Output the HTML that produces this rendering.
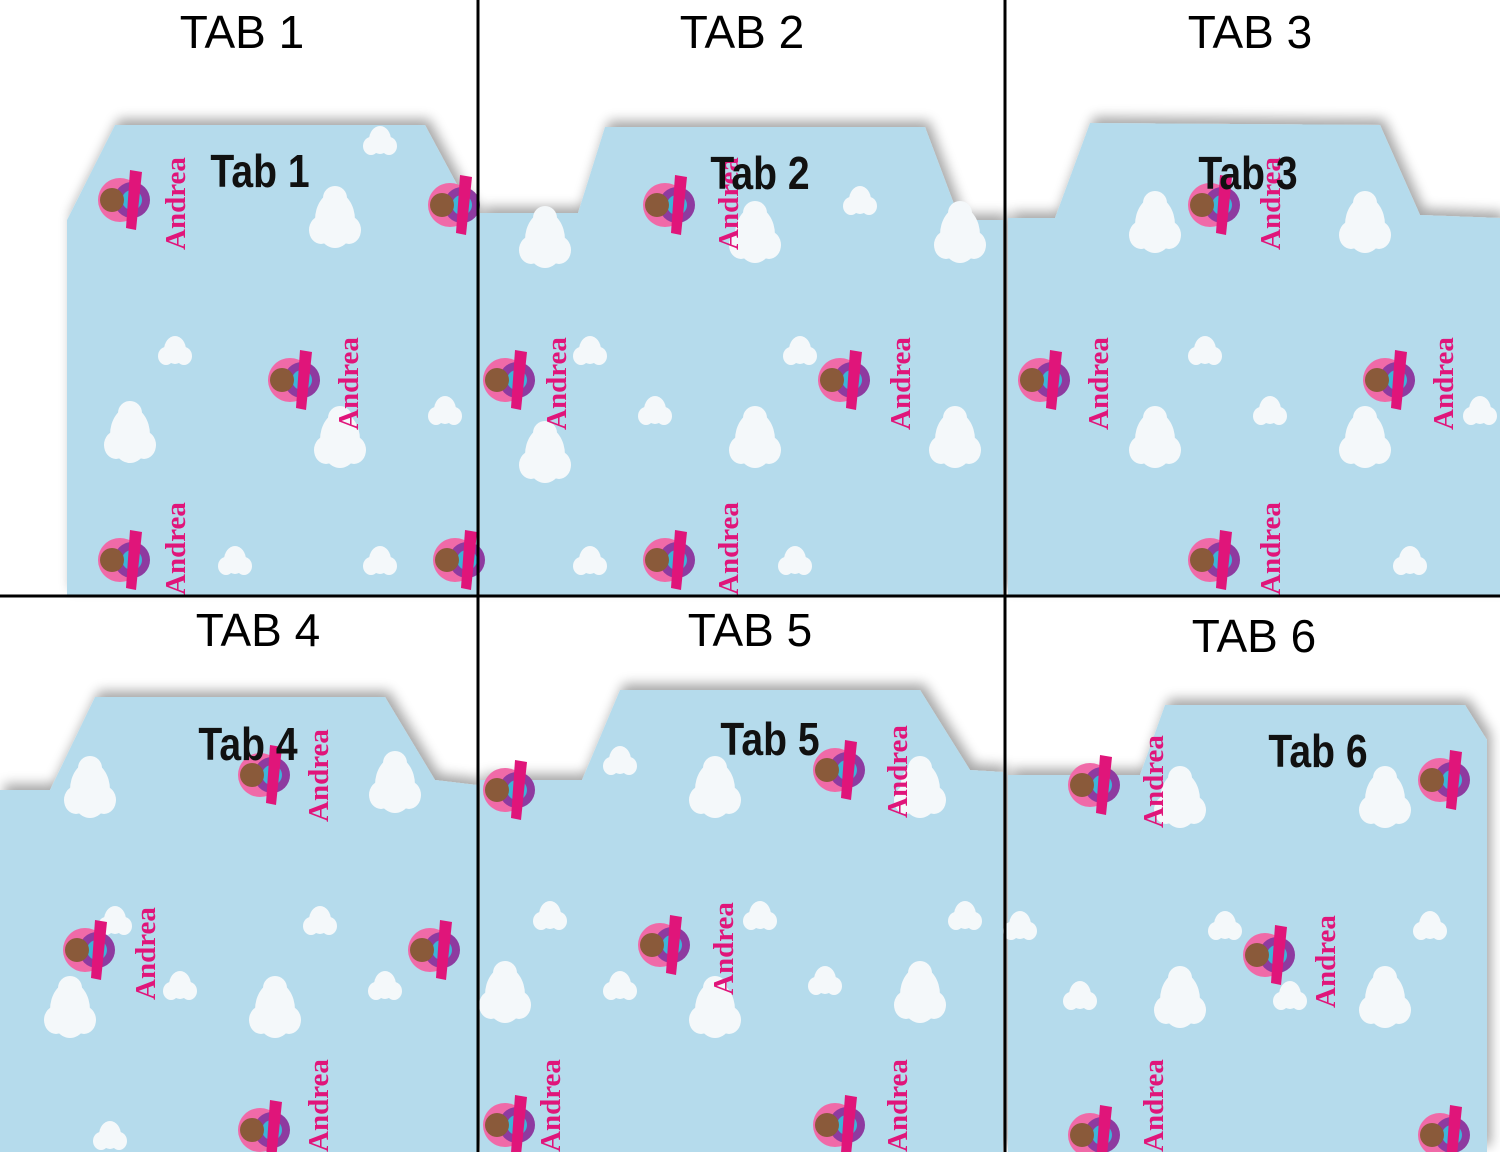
<!DOCTYPE html>
<html><head><meta charset="utf-8"><style>
html,body{margin:0;padding:0;background:#fff;}
svg{display:block}
</style></head><body>
<svg width="1500" height="1152" viewBox="0 0 1500 1152" xmlns="http://www.w3.org/2000/svg">
<defs>
<filter id="sh" x="-10%" y="-10%" width="120%" height="120%"><feGaussianBlur in="SourceAlpha" stdDeviation="6"/><feOffset dx="4" dy="-6"/><feComponentTransfer><feFuncA type="linear" slope="0.35"/></feComponentTransfer><feMerge><feMergeNode/><feMergeNode in="SourceGraphic"/></feMerge></filter>
<g id="cloud"><ellipse cx="0" cy="0" rx="20" ry="28" fill="#f4f8fa"/><ellipse cx="-14" cy="10" rx="12" ry="14" fill="#f4f8fa"/><ellipse cx="14" cy="10" rx="12" ry="14" fill="#f4f8fa"/><ellipse cx="0" cy="-22" rx="12" ry="12" fill="#f4f8fa"/></g>
<g id="sc"><ellipse cx="0" cy="0" rx="11" ry="14" fill="#f4f8fa"/><ellipse cx="-9" cy="6" rx="8" ry="9" fill="#f4f8fa"/><ellipse cx="9" cy="6" rx="8" ry="9" fill="#f4f8fa"/></g>
<g id="girl"><circle cx="0" cy="0" r="22" fill="#f06aa8"/><circle cx="12" cy="0" r="18" fill="#8e3aa0"/><circle cx="12" cy="0" r="10" fill="#3cb4d8"/><circle cx="12" cy="0" r="3" fill="#ffd23a"/><circle cx="-8" cy="0" r="12" fill="#8a5a3a"/><path d="M10 -30 L22 -28 L16 30 L6 28Z" fill="#e0157a"/></g>
</defs>
<g font-family="'Liberation Sans',sans-serif" font-size="46" text-anchor="middle" fill="#000">
<text x="242" y="48">TAB 1</text><text x="742" y="48">TAB 2</text><text x="1250" y="48">TAB 3</text>
<text x="258" y="646">TAB 4</text><text x="750" y="646">TAB 5</text><text x="1254" y="652">TAB 6</text>
</g>
<g fill="#b5dbec" filter="url(#sh)">
<polygon points="67,220 115,125 425,125 468,205 477,215 477,595 67,595"/>
<polygon points="480,213 578,213 605,127 925,127 960,220 1003,220 1003,595 480,595"/>
<polygon points="1008,218 1055,218 1090,123 1380,125 1420,215 1500,218 1500,595 1008,595"/>
<polygon points="0,790 50,790 95,697 385,697 435,780 477,785 477,1152 0,1152"/>
<polygon points="480,780 582,780 620,690 920,690 970,770 1003,772 1003,1152 480,1152"/>
<polygon points="1008,775 1140,775 1165,705 1465,705 1487,740 1487,1152 1008,1152"/>
</g>
<g>
<use href="#cloud" x="335" y="220"/><use href="#cloud" x="130" y="435"/><use href="#cloud" x="340" y="440"/><use href="#sc" x="175" y="350"/><use href="#sc" x="380" y="140"/><use href="#sc" x="380" y="560"/><use href="#sc" x="235" y="560"/><use href="#sc" x="445" y="410"/>
<use href="#cloud" x="755" y="235"/><use href="#cloud" x="755" y="440"/><use href="#cloud" x="545" y="455"/><use href="#cloud" x="955" y="440"/><use href="#sc" x="590" y="350"/><use href="#sc" x="655" y="410"/><use href="#sc" x="860" y="200"/><use href="#sc" x="800" y="350"/><use href="#sc" x="590" y="560"/><use href="#sc" x="795" y="560"/><use href="#cloud" x="545" y="240"/><use href="#cloud" x="960" y="235"/>
<use href="#cloud" x="1155" y="225"/><use href="#cloud" x="1155" y="440"/><use href="#cloud" x="1365" y="225"/><use href="#cloud" x="1365" y="440"/><use href="#sc" x="1205" y="350"/><use href="#sc" x="1270" y="410"/><use href="#sc" x="1410" y="560"/><use href="#sc" x="1480" y="410"/>
<use href="#cloud" x="70" y="1010"/><use href="#cloud" x="275" y="1010"/><use href="#cloud" x="90" y="790"/><use href="#cloud" x="395" y="785"/><use href="#sc" x="320" y="920"/><use href="#sc" x="115" y="920"/><use href="#sc" x="180" y="985"/><use href="#sc" x="385" y="985"/><use href="#sc" x="110" y="1135"/>
<use href="#cloud" x="715" y="790"/><use href="#cloud" x="920" y="790"/><use href="#cloud" x="505" y="995"/><use href="#cloud" x="715" y="1010"/><use href="#cloud" x="920" y="995"/><use href="#sc" x="620" y="760"/><use href="#sc" x="550" y="915"/><use href="#sc" x="760" y="915"/><use href="#sc" x="825" y="980"/><use href="#sc" x="620" y="985"/><use href="#sc" x="965" y="915"/>
<use href="#cloud" x="1180" y="1000"/><use href="#cloud" x="1385" y="1000"/><use href="#cloud" x="1180" y="800"/><use href="#cloud" x="1385" y="800"/><use href="#sc" x="1080" y="995"/><use href="#sc" x="1225" y="925"/><use href="#sc" x="1430" y="925"/><use href="#sc" x="1290" y="995"/><use href="#sc" x="1020" y="925"/>
</g>
<g>
<use href="#girl" x="120" y="200"/><use href="#girl" x="290" y="380"/><use href="#girl" x="120" y="560"/><use href="#girl" x="450" y="205"/><use href="#girl" x="455" y="560"/>
<use href="#girl" x="665" y="205"/><use href="#girl" x="505" y="380"/><use href="#girl" x="840" y="380"/><use href="#girl" x="665" y="560"/>
<use href="#girl" x="1210" y="205"/><use href="#girl" x="1040" y="380"/><use href="#girl" x="1385" y="380"/><use href="#girl" x="1210" y="560"/>
<use href="#girl" x="260" y="775"/><use href="#girl" x="85" y="950"/><use href="#girl" x="430" y="950"/><use href="#girl" x="260" y="1130"/>
<use href="#girl" x="835" y="770"/><use href="#girl" x="660" y="945"/><use href="#girl" x="835" y="1125"/><use href="#girl" x="505" y="790"/><use href="#girl" x="505" y="1125"/>
<use href="#girl" x="1090" y="785"/><use href="#girl" x="1265" y="955"/><use href="#girl" x="1440" y="780"/><use href="#girl" x="1090" y="1135"/><use href="#girl" x="1440" y="1135"/>
</g>
<g font-family="'Liberation Serif',serif" font-weight="bold" font-size="29" fill="#e0157a">
<text transform="translate(185,250) rotate(-90)">Andrea</text><text transform="translate(358,430) rotate(-90)">Andrea</text><text transform="translate(185,595) rotate(-90)">Andrea</text>
<text transform="translate(738,250) rotate(-90)">Andrea</text><text transform="translate(566,430) rotate(-90)">Andrea</text><text transform="translate(910,430) rotate(-90)">Andrea</text><text transform="translate(738,595) rotate(-90)">Andrea</text>
<text transform="translate(1280,250) rotate(-90)">Andrea</text><text transform="translate(1108,430) rotate(-90)">Andrea</text><text transform="translate(1453,430) rotate(-90)">Andrea</text><text transform="translate(1280,595) rotate(-90)">Andrea</text>
<text transform="translate(328,822) rotate(-90)">Andrea</text><text transform="translate(155,1000) rotate(-90)">Andrea</text><text transform="translate(328,1152) rotate(-90)">Andrea</text>
<text transform="translate(907,818) rotate(-90)">Andrea</text><text transform="translate(733,995) rotate(-90)">Andrea</text><text transform="translate(907,1152) rotate(-90)">Andrea</text><text transform="translate(560,1152) rotate(-90)">Andrea</text>
<text transform="translate(1163,828) rotate(-90)">Andrea</text><text transform="translate(1335,1008) rotate(-90)">Andrea</text><text transform="translate(1163,1152) rotate(-90)">Andrea</text>
</g>
<g font-family="'Liberation Sans',sans-serif" font-weight="bold" font-size="46" fill="#111" text-anchor="middle">
<text transform="translate(260,187) scale(0.85,1)">Tab 1</text><text transform="translate(760,189) scale(0.85,1)">Tab 2</text><text transform="translate(1248,189) scale(0.85,1)">Tab 3</text>
<text transform="translate(248,760) scale(0.85,1)">Tab 4</text><text transform="translate(770,755) scale(0.85,1)">Tab 5</text><text transform="translate(1318,767) scale(0.85,1)">Tab 6</text>
</g>
<g stroke="#000" stroke-width="3">
<line x1="478" y1="0" x2="478" y2="1152"/><line x1="1005" y1="0" x2="1005" y2="1152"/><line x1="0" y1="596" x2="1500" y2="596"/>
</g>
</svg>
</body></html>
